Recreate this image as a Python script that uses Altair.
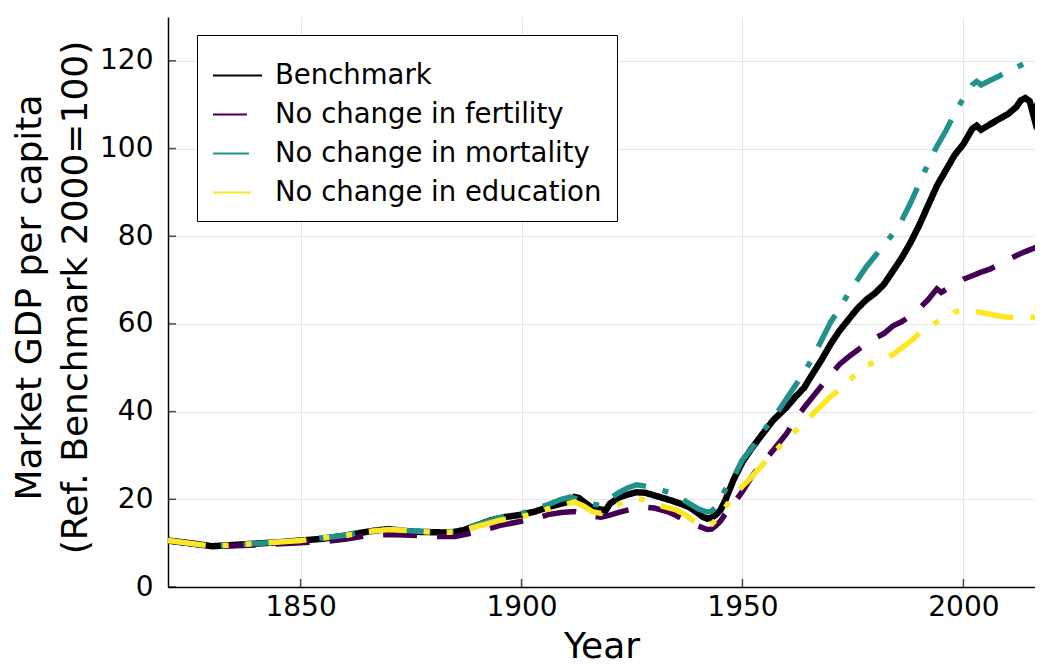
import altair as alt
import pandas as pd

series_names = ["Benchmark", "No change in fertility", "No change in mortality", "No change in education"]
series_colors = ["#000000", "#440154", "#21918c", "#fde725"]
series_dashes = [[1, 0], [34, 20], [36, 17, 6, 17], [38, 17, 6, 17, 6, 17]]

x_ticks = [1850, 1900, 1950, 2000]
y_ticks = [0, 20, 40, 60, 80, 100, 120]

bench_years = [1820, 1825, 1830, 1835, 1840, 1845, 1850, 1855, 1860, 1865, 1868, 1870, 1873, 1876, 1880, 1884, 1887,
               1890, 1893, 1896, 1900, 1903, 1906, 1909, 1911, 1912, 1913, 1914, 1916, 1918, 1919, 1920, 1922, 1924,
               1926, 1928, 1930, 1932, 1934, 1936, 1938, 1940, 1941, 1942, 1943, 1944, 1945, 1946, 1947, 1948, 1950,
               1952, 1955, 1957, 1960, 1962, 1964, 1965, 1968, 1970, 1972, 1974, 1976, 1978, 1980, 1982, 1984, 1986,
               1988, 1990, 1992, 1994, 1996, 1998, 2000, 2002, 2003, 2004, 2006, 2008, 2010, 2012, 2013, 2014, 2015,
               2016, 2017, 2018]
bench_vals = [10.6, 10.0, 9.3, 9.6, 9.9, 10.2, 10.6, 11.0, 11.7, 12.6, 13.0, 13.2, 12.8, 12.6, 12.5, 12.4, 13.0,
              14.1, 15.2, 15.9, 16.5, 17.2, 18.2, 19.0, 19.5, 20.5, 20.3, 19.5, 18.0, 17.7, 17.4, 19.0, 20.4, 21.1,
              21.6, 21.5, 20.9, 20.3, 19.7, 19.0, 18.2, 16.8, 16.0, 15.6, 15.8, 16.5, 17.5, 19.5, 22.0, 24.5, 28.5,
              31.5, 35.5, 38.1, 41.0, 43.4, 45.5, 47.2, 52.0, 55.5, 58.5, 61.0, 63.5, 65.5, 67.0, 69.0, 72.0, 75.0,
              78.5, 82.5, 87.0, 91.5, 95.0, 98.5, 101.0, 104.5, 105.2, 104.3, 105.5, 106.7, 107.8, 109.5, 111.0, 111.5,
              110.8, 107.0, 111.0, 113.8]

fert_years = [1820, 1830, 1840, 1850, 1855, 1860, 1865, 1870, 1875, 1880, 1885, 1890, 1895, 1900, 1903, 1906, 1909,
              1912, 1914, 1916, 1918, 1920, 1922, 1925, 1928, 1930, 1933, 1935, 1937, 1939, 1941, 1942, 1943, 1944,
              1945, 1946, 1948, 1950, 1952, 1954, 1956, 1958, 1960, 1962, 1964, 1966, 1968, 1970, 1972, 1974, 1976,
              1978, 1980, 1982, 1984, 1986, 1988, 1990, 1992, 1994, 1995, 1997, 2000, 2002, 2004, 2006, 2008, 2010,
              2012, 2014, 2016, 2018]
fert_vals = [10.5, 9.2, 9.6, 10.1, 10.3, 10.9, 11.7, 12.0, 11.8, 11.5, 11.5, 12.6, 14.0, 15.0, 15.6, 16.5, 17.0,
             17.2, 16.8, 16.2, 15.9, 16.4, 17.0, 17.8, 18.2, 18.0, 17.2, 16.3, 15.2, 14.3, 13.5, 13.1, 13.2, 14.0,
             15.0, 16.5, 19.0, 21.8, 25.0, 27.8, 30.0, 32.5, 35.0, 38.3, 41.0, 43.5, 46.0, 48.5, 50.8, 52.5, 54.0,
             55.5, 56.8, 57.8, 59.5, 60.5, 61.8, 63.5, 65.5, 68.0, 67.2, 68.4, 70.2, 71.0, 71.8, 72.5, 73.5, 74.6,
             75.6, 76.5, 77.3, 78.0]

mort_years = [1820, 1830, 1840, 1850, 1860, 1865, 1870, 1875, 1880, 1885, 1890, 1895, 1900, 1903, 1906, 1909, 1911,
              1913, 1915, 1918, 1920, 1922, 1924, 1926, 1928, 1930, 1932, 1934, 1936, 1938, 1940, 1942, 1943, 1944,
              1945, 1946, 1948, 1950, 1952, 1954, 1956, 1958, 1960, 1962, 1964, 1966, 1968, 1970, 1972, 1974, 1976,
              1978, 1980, 1982, 1984, 1986, 1988, 1990, 1992, 1994, 1996, 1998, 2000, 2002, 2003, 2004, 2006, 2008,
              2010, 2012, 2014, 2016, 2018]
mort_vals = [10.6, 9.3, 9.9, 10.6, 11.8, 12.8, 13.3, 12.8, 12.5, 12.7, 14.2, 15.8, 16.8, 17.7, 18.8, 20.0, 20.5,
             20.0, 19.1, 18.6, 20.2, 21.5, 22.6, 23.3, 23.0, 22.5, 22.0, 21.4, 20.3, 19.0, 17.8, 17.1, 17.3, 18.2,
             20.0, 22.0, 25.0, 29.0, 31.5, 34.5, 37.3, 40.0, 43.0, 46.0, 49.0, 52.5, 56.5, 60.5, 63.5, 67.0, 70.0,
             73.0, 75.5, 78.0, 80.5, 83.5, 87.5, 92.0, 96.5, 100.5, 104.0, 108.0, 111.5, 114.5, 115.3, 114.5, 115.5,
             116.5, 117.5, 118.5, 119.5, 120.5, 121.2]

edu_years = [1820, 1830, 1840, 1850, 1860, 1865, 1870, 1875, 1880, 1885, 1890, 1895, 1900, 1903, 1906, 1909, 1912,
             1914, 1916, 1918, 1920, 1922, 1924, 1926, 1928, 1930, 1932, 1935, 1937, 1939, 1940, 1942, 1943, 1944,
             1945, 1947, 1950, 1952, 1954, 1956, 1958, 1960, 1962, 1964, 1966, 1968, 1970, 1972, 1974, 1976, 1978,
             1980, 1982, 1984, 1986, 1988, 1990, 1992, 1994, 1996, 1998, 2000, 2002, 2004, 2006, 2008, 2010, 2012,
             2014, 2016, 2018]
edu_vals = [10.6, 9.3, 9.9, 10.6, 11.7, 12.6, 13.1, 12.8, 12.5, 12.5, 13.8, 15.2, 16.0, 16.7, 17.8, 18.6, 19.4,
            18.5, 17.2, 16.8, 17.7, 18.8, 19.7, 20.2, 19.8, 19.0, 18.4, 17.6, 16.5, 15.0, 14.4, 14.0, 14.3, 15.3,
            16.5, 19.5, 23.0, 25.0, 27.3, 29.5, 31.6, 33.8, 35.6, 37.5, 39.5, 41.5, 43.5, 45.0, 47.0, 48.8, 50.5,
            51.3, 51.9, 53.0, 54.5, 56.0, 57.8, 59.2, 60.4, 61.6, 62.7, 63.2, 63.0, 62.6, 62.2, 61.8, 61.5, 61.5,
            61.8, 61.5, 61.2]

rows = []
for name, ys, vs in [(series_names[0], bench_years, bench_vals), (series_names[1], fert_years, fert_vals),
                     (series_names[2], mort_years, mort_vals), (series_names[3], edu_years, edu_vals)]:
    for y, v in zip(ys, vs):
        rows.append({"Year": y, "GDP": v, "series": name})
df = pd.DataFrame(rows)

FONT = "DejaVu Sans"
x_scale = alt.Scale(domain=[1820, 2016.2], nice=False, zero=False)
y_scale = alt.Scale(domain=[0, 130], nice=False)
color_scale = alt.Scale(domain=series_names, range=series_colors)
dash_scale = alt.Scale(domain=series_names, range=series_dashes)

x_axis = alt.Axis(values=x_ticks, format="d", grid=True, gridColor="#e6e6e6", gridWidth=1, tickSize=0,
                  labelFontSize=28, labelFont=FONT, labelColor="black", labelPadding=6,
                  title="Year", titleFont=FONT, titleFontSize=36, titleFontWeight="normal", titleColor="black",
                  titlePadding=8, domainColor="black", domainWidth=1.5)
y_axis = alt.Axis(values=y_ticks, grid=True, gridColor="#e6e6e6", gridWidth=1, tickSize=0,
                  labelFontSize=28, labelFont=FONT, labelColor="black", labelPadding=15,
                  title=["Market GDP per capita", "(Ref. Benchmark 2000=100)"], titleFont=FONT, titleFontSize=36,
                  titleFontWeight="normal", titleColor="black", titleAngle=270, titleX=-139, titleY=280,
                  titleAlign="center", titleBaseline="middle", titleLineHeight=46,
                  domainColor="black", domainWidth=1.5)

legend = alt.Legend(orient="none", legendX=29, legendY=18, title=None,
                    symbolType="stroke", symbolSize=2400, symbolStrokeWidth=2, labelFontSize=27.5,
                    labelFont=FONT, labelColor="black", labelOffset=12, labelLimit=0, padding=15, rowPadding=0,
                    fillColor="white", strokeColor="black")

widths = [6.5, 5.5, 5.5, 5.5]
layers = []
for i, name in enumerate(series_names):
    layers.append(
        alt.Chart(df).transform_filter(alt.datum.series == name)
        .mark_line(strokeWidth=widths[i], clip=True, strokeCap="butt")
        .encode(
            x=alt.X("Year:Q", scale=x_scale, axis=x_axis),
            y=alt.Y("GDP:Q", scale=y_scale, axis=y_axis),
            color=alt.Color("series:N", scale=color_scale, legend=legend),
            strokeDash=alt.StrokeDash("series:N", scale=dash_scale, legend=legend),
        )
    )

xt = pd.DataFrame({"Year": x_ticks})
yt = pd.DataFrame({"GDP": y_ticks})
xticks_layer = alt.Chart(xt).mark_tick(color="black", thickness=1.5, size=8).encode(
    x=alt.X("Year:Q", scale=x_scale), y=alt.value(566))
yticks_layer = alt.Chart(yt).mark_tick(color="black", thickness=1.5, size=8).encode(
    y=alt.Y("GDP:Q", scale=y_scale), x=alt.value(4))

chart = alt.layer(*layers, xticks_layer, yticks_layer).properties(
    width=867, height=570,
    autosize=alt.AutoSizeParams(type="none"),
    padding={"left": 160, "top": 9, "right": 0, "bottom": 77},
    background="white",
).configure_view(stroke=None)

chart.save("out.html", embed_options={"renderer": "svg", "actions": False})
